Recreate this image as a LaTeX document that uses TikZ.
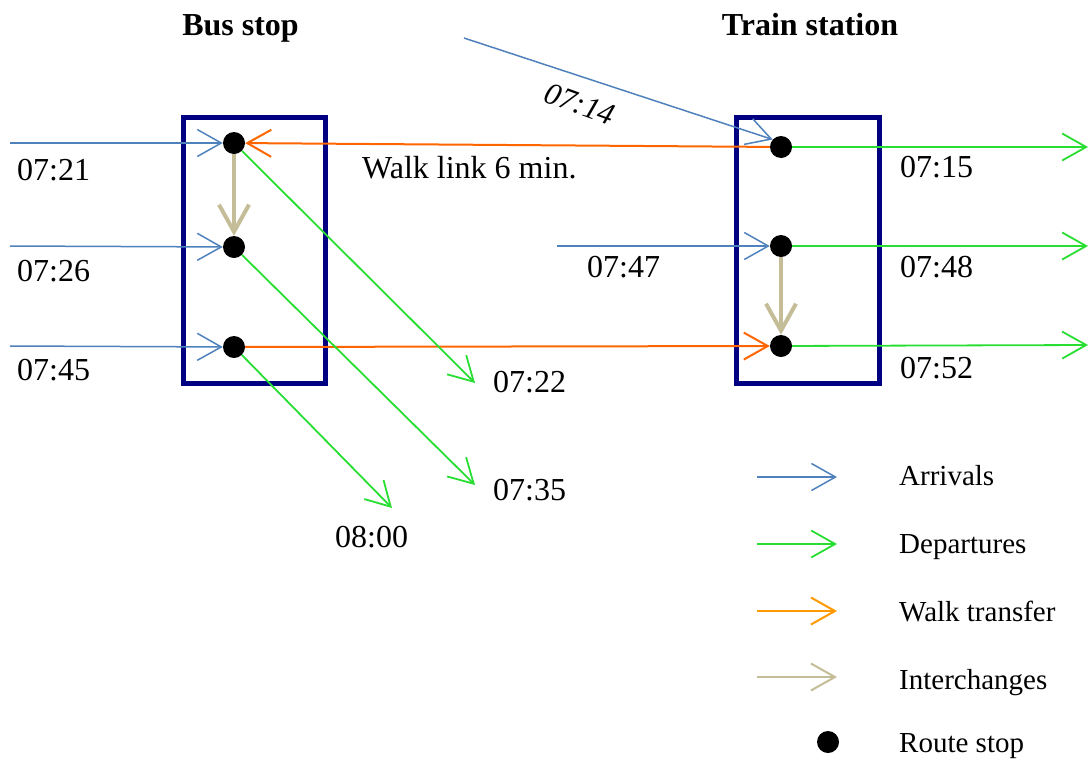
\documentclass[tikz,border=0pt]{standalone}
\usepackage{fontspec}
\setmainfont{Liberation Serif}
\usetikzlibrary{arrows.meta}
\definecolor{arrblue}{RGB}{79,129,189}
\definecolor{depgreen}{RGB}{40,222,50}
\definecolor{walkorange}{RGB}{255,102,0}
\definecolor{legorange}{RGB}{255,153,0}
\definecolor{interTan}{RGB}{196,189,151}
\definecolor{navyb}{RGB}{0,0,128}
\tikzset{
  stopdot/.style={circle,fill=black,minimum size=22pt,inner sep=0pt},
  stationbox/.style={draw=navyb,line width=5pt},
  barb/.style={-{Straight Barb[length=24pt,width=27pt]}},
  arr/.style={barb,draw=arrblue,line width=1.5pt},
  dep/.style={barb,draw=depgreen,line width=1.8pt},
  walk/.style={barb,draw=walkorange,line width=2pt},
  legwalk/.style={barb,draw=legorange,line width=2pt},
  legint/.style={barb,draw=interTan,line width=2pt},
  inter/.style={-{Straight Barb[length=27pt,width=30pt]},draw=interTan,line width=4pt},
  lbl/.style={font=\fontsize{32}{38}\selectfont,anchor=base west,inner sep=0pt},
  leg/.style={font=\fontsize{29}{34}\selectfont,anchor=base west,inner sep=0pt},
  ttl/.style={font=\fontsize{32}{38}\selectfont\bfseries,anchor=base,inner sep=0pt}
}
\begin{document}
\begin{tikzpicture}[x=1pt,y=-1pt]
\useasboundingbox (0,0) rectangle (1089,758);
% titles
\node[ttl] (tbus) at (240.5,35) {Bus stop};
\node[ttl] (ttrain) at (810,35) {Train station};
% boxes
\draw[stationbox] (183.5,117.5) rectangle (325,383);
\draw[stationbox] (736,117.5) rectangle (879,383);
% stops
\node[stopdot] (b1) at (234,143) {};
\node[stopdot] (b2) at (234,247) {};
\node[stopdot] (b3) at (234,347) {};
\node[stopdot] (t1) at (781,147) {};
\node[stopdot] (t2) at (781,246) {};
\node[stopdot] (t3) at (781,346) {};
% free ends
\coordinate (ab1) at (10,143);
\coordinate (ab2) at (10,246);
\coordinate (ab3) at (10,346);
\coordinate (a714) at (464,38);
\coordinate (a747) at (557,246);
\coordinate (d722) at (475,383);
\coordinate (d735) at (475,485);
\coordinate (d800) at (392,508);
\coordinate (d715) at (1088,147);
\coordinate (d748) at (1088,246);
\coordinate (d752) at (1088,345);
% arrivals
\draw[arr] (ab1) -- (b1);
\draw[arr] (ab2) -- (b2);
\draw[arr] (ab3) -- (b3);
\draw[arr] (a714) -- (t1.138);
\draw[arr] (a747) -- (t2);
% walk links
\draw[walk] (t1) -- (b1);
\draw[walk] (b3) -- (t3);
% interchanges
\draw[inter] (b1) -- (b2);
\draw[inter] (t2) -- (t3);
% departures
\draw[dep] (b1) -- (d722);
\draw[dep] (b2) -- (d735);
\draw[dep] (b3) -- (d800);
\draw[dep] (t1) -- (d715);
\draw[dep] (t2) -- (d748);
\draw[dep] (t3) -- (d752);
% labels
\node[lbl] (l721) at (17,180) {07:21};
\node[lbl] (l726) at (17,281) {07:26};
\node[lbl] (l745) at (17,380) {07:45};
\node[lbl] (l722) at (493,392) {07:22};
\node[lbl] (l735) at (493,500) {07:35};
\node[lbl] (l800) at (335,547) {08:00};
\node[lbl] (l715) at (900,177) {07:15};
\node[lbl] (l748) at (900,277) {07:48};
\node[lbl] (l752) at (900,378) {07:52};
\node[lbl] (l747) at (587,277) {07:47};
\node[lbl] (lwalk) at (362,178) {Walk link 6 min.};
\node[font=\fontsize{31}{36}\selectfont\itshape,inner sep=0pt,rotate=-20] (l714) at (580,104) {07:14};
% legend
\coordinate (g1s) at (757,477); \coordinate (g1e) at (837,477);
\coordinate (g2s) at (757,544); \coordinate (g2e) at (837,544);
\coordinate (g3s) at (757,611); \coordinate (g3e) at (837,611);
\coordinate (g4s) at (757,677); \coordinate (g4e) at (837,677);
\draw[arr] (g1s) -- (g1e);
\draw[dep] (g2s) -- (g2e);
\draw[legwalk] (g3s) -- (g3e);
\draw[legint] (g4s) -- (g4e);
\node[stopdot] (gdot) at (828,742) {};
\node[leg] (n1) at (899,485) {Arrivals};
\node[leg] (n2) at (899,553) {Departures};
\node[leg] (n3) at (899,621) {Walk transfer};
\node[leg] (n4) at (899,689) {Interchanges};
\node[leg] (n5) at (899,752) {Route stop};
\end{tikzpicture}
\end{document}
